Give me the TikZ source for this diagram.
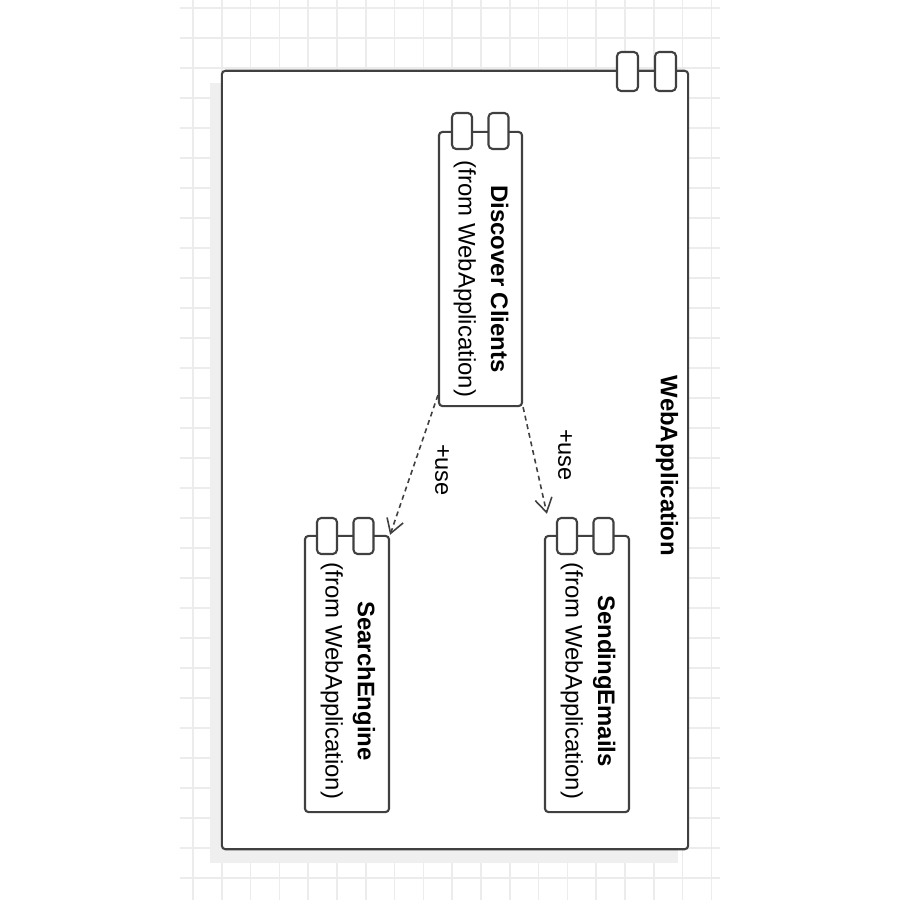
\documentclass[tikz,border=0pt]{standalone}
\usepackage{fontspec}
\setmainfont{Liberation Sans}
\usetikzlibrary{arrows.meta,backgrounds,calc}
\definecolor{umlline}{RGB}{64,64,64}
\definecolor{umlgrid}{RGB}{236,236,236}
\definecolor{umlshade}{RGB}{239,239,239}

\tikzset{
  comp/.style={draw=umlline, line width=0.6pt, fill=white, rounded corners=1pt,
    rotate=-90, inner sep=0pt},
  compname/.style={rotate=-90, align=center, inner sep=0pt,
    font=\fontsize{6.8}{9.2}\selectfont},
  port/.style={draw=umlline, line width=0.6pt, fill=white, rounded corners=1.2pt,
    minimum width=0.2cm, minimum height=0.36cm, inner sep=0pt},
  uses/.style={draw=umlline, line width=0.45pt, dash pattern=on 1.4pt off 1.1pt,
    -{Straight Barb[length=1.4mm,width=1.7mm]}},
  uselbl/.style={rotate=-90, inner sep=0pt, font=\fontsize{6.7}{8}\selectfont},
}

\begin{document}
\begin{tikzpicture}[x=0.01cm, y=-0.01cm]
\useasboundingbox (0,0) rectangle (900,900);

% Package frame
\node[comp, minimum width=7.78cm, minimum height=4.66cm] (webapp) at (455,460) {};
\node[compname, font=\fontsize{6.8}{8}\selectfont\bfseries] (webapp-title) at (667,466) {WebApplication};
\node[port, minimum width=0.21cm, minimum height=0.39cm] (webapp-p1) at (627.5,71.5) {};
\node[port, minimum width=0.21cm, minimum height=0.39cm] (webapp-p2) at (665.5,71.5) {};

% Components
\node[comp, minimum width=2.74cm, minimum height=0.83cm] (discover) at (480.5,269) {};
\node[compname] (discover-text) at (481,279) {\textbf{Discover Clients}\\(from WebApplication)};
\node[port] (discover-p1) at (462,131) {};
\node[port] (discover-p2) at (498.5,131) {};

\node[comp, minimum width=2.76cm, minimum height=0.84cm] (search) at (347,674) {};
\node[compname] (search-text) at (348,681) {\textbf{SearchEngine}\\(from WebApplication)};
\node[port] (search-p1) at (327,536) {};
\node[port] (search-p2) at (363.5,536) {};

\node[comp, minimum width=2.76cm, minimum height=0.84cm] (sending) at (587,674) {};
\node[compname] (sending-text) at (588,681) {\textbf{SendingEmails}\\(from WebApplication)};
\node[port] (sending-p1) at (567,536) {};
\node[port] (sending-p2) at (603.5,536) {};

% Dependencies
\coordinate (sending-in) at ($(sending.south west)+(3,-21)$);
\draw[uses] ($(discover.south east)+(0,-12)$) -- (search.north west);
\draw[uses] (discover.north east) -- (sending-in);
\node[uselbl] (use-a) at (442,470) {+use};
\node[uselbl] (use-b) at (565,455) {+use};

% Grid and shadows
\begin{scope}[on background layer]
\foreach \gx in {0,...,18}
  \draw[umlgrid, line width=0.45pt] ({193+28.8*\gx},0) -- ({193+28.8*\gx},900);
\foreach \gy in {0,...,29}
  \draw[umlgrid, line width=0.45pt] (180,{8+30*\gy}) -- (720,{8+30*\gy});
\foreach \n in {webapp,discover,search,sending}
  \fill[umlshade] ([shift={(-11,13)}]\n.south west) rectangle ([shift={(-11,13)}]\n.north east);
\end{scope}
\end{tikzpicture}
\end{document}
